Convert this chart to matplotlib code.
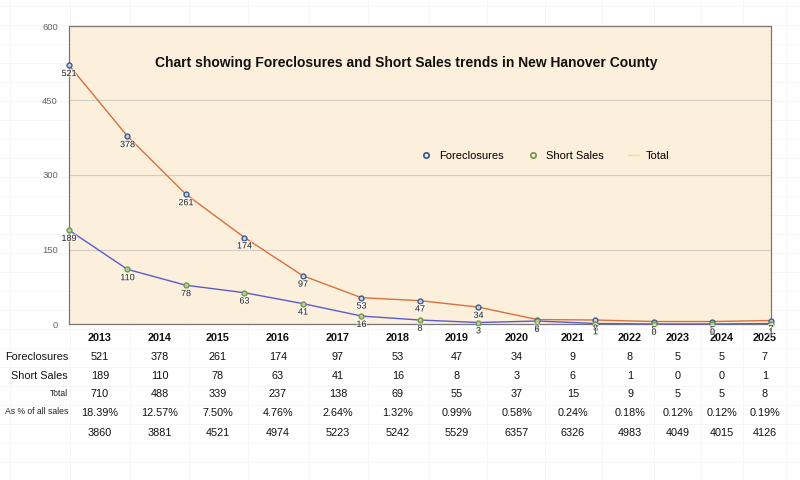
import numpy as np
import matplotlib
matplotlib.use('Agg')
import matplotlib.pyplot as plt
from matplotlib.lines import Line2D
import matplotlib.patheffects as pe

plt.rcParams['font.family'] = ['Liberation Sans', 'DejaVu Sans']

years = ['2013', '2014', '2015', '2016', '2017', '2018', '2019',
         '2020', '2021', '2022', '2023', '2024', '2025']
foreclosures = [521, 378, 261, 174, 97, 53, 47, 34, 9, 8, 5, 5, 7]
short_sales = [189, 110, 78, 63, 41, 16, 8, 3, 6, 1, 0, 0, 1]
total = [710, 488, 339, 237, 138, 69, 55, 37, 15, 9, 5, 5, 8]
pct_all = ['18.39%', '12.57%', '7.50%', '4.76%', '2.64%', '1.32%', '0.99%',
           '0.58%', '0.24%', '0.18%', '0.12%', '0.12%', '0.19%']
all_sales = [3860, 3881, 4521, 4974, 5223, 5242, 5529,
             6357, 6326, 4983, 4049, 4015, 4126]
yticks = [0, 150, 300, 450, 600]

# table column centres / borders (spreadsheet layout, pixels)
col_x = [100, 160, 218, 278, 338, 398, 457, 517, 573, 630, 678, 722, 765]
col_edges = [10, 70, 130, 189, 248, 308, 368, 428, 487, 545, 602, 654, 700, 743, 787]

fig = plt.figure(figsize=(8, 4.8), dpi=100)
fig.patch.set_facecolor('white')

# background sheet with faint cell grid and the table
bg = fig.add_axes([0, 0, 1, 1], zorder=0)
bg.set_xlim(0, 800)
bg.set_ylim(480, 0)
bg.axis('off')
for y in np.arange(6, 480, 19):
    bg.plot([0, 800], [y, y], color='#f4f4f4', lw=0.6)
for x in col_edges:
    bg.plot([x, x], [0, 480], color='#f4f4f4', lw=0.6)

rows = [
    (338, years, True),
    (357, [str(v) for v in foreclosures], False),
    (376, [str(v) for v in short_sales], False),
    (394, [str(v) for v in total], False),
    (413, pct_all, False),
    (433, [str(v) for v in all_sales], False),
]
for y, vals, bold in rows:
    for x, v in zip(col_x, vals):
        bg.text(x, y, v, ha='center', va='center', fontsize=7.8,
                fontweight='bold' if bold else 'normal', color='#111111')
bg.text(68, 357, 'Foreclosures', ha='right', va='center', fontsize=7.8, color='#111111')
bg.text(68, 376, 'Short Sales', ha='right', va='center', fontsize=7.8, color='#111111')
bg.text(68, 393, 'Total', ha='right', va='center', fontsize=6.2, color='#222222')
bg.text(68, 412, 'As % of all sales', ha='right', va='center', fontsize=6.2, color='#222222')

# chart
ax = fig.add_axes([69 / 800, 1 - 324 / 480, (771 - 69) / 800, (324 - 26) / 480], zorder=2)
ax.set_facecolor('#fcefdb')
x = np.arange(len(years))
ax.plot(x, foreclosures, color='#d8703f', lw=1, marker='o', ms=3.5,
        mfc='#c9d3e3', mec='#3b5a92', mew=1, clip_on=False, zorder=3)
ax.plot(x, short_sales, color='#5b5bd0', lw=1, marker='o', ms=3.5,
        mfc='#b9cf9c', mec='#739a4e', mew=1, clip_on=False, zorder=3)

glow = [pe.withStroke(linewidth=1.5, foreground='#ffffff', alpha=0.6)]
for xi, v in zip(x, foreclosures):
    ax.annotate(str(v), (xi, v), xytext=(0, -6), textcoords='offset points',
                ha='center', va='center', fontsize=6.5, color='#333333',
                annotation_clip=False, path_effects=glow, zorder=4)
for xi, v in zip(x, short_sales):
    ax.annotate(str(v), (xi, v), xytext=(0, -6), textcoords='offset points',
                ha='center', va='center', fontsize=6.5, color='#333333',
                annotation_clip=False, path_effects=glow, zorder=4)

ax.set_xlim(0, len(years) - 1)
ax.set_ylim(0, 600)
ax.set_yticks(yticks)
ax.set_yticklabels([str(t) for t in yticks], fontsize=6.8, color='#666666')
ax.set_xticks([])
ax.tick_params(axis='y', length=0, pad=8)
ax.grid(axis='y', color='#d2cdc4', lw=0.8)
ax.set_axisbelow(True)
for s in ax.spines.values():
    s.set_color('#777777')
    s.set_linewidth(0.9)

fig.text(406 / 800, 1 - 63 / 480,
         'Chart showing Foreclosures and Short Sales trends in New Hanover County',
         ha='center', va='center', fontsize=10, fontweight='bold', color='#111111', zorder=5)

handles = [
    Line2D([], [], linestyle='none', marker='o', ms=3.8, mfc='none', mec='#3b5a92', mew=1.3),
    Line2D([], [], linestyle='none', marker='o', ms=3.8, mfc='none', mec='#739a4e', mew=1.3),
    Line2D([], [], color='#f5e27a', lw=1),
]
ax.legend(handles, ['Foreclosures', 'Short Sales', 'Total'], ncol=3, frameon=False,
          loc='center', bbox_to_anchor=(545 / 800, 1 - 156 / 480),
          bbox_transform=fig.transFigure, fontsize=8, handlelength=1.0,
          handletextpad=0.6, columnspacing=2.2)

fig.savefig('out.png', dpi=100)
